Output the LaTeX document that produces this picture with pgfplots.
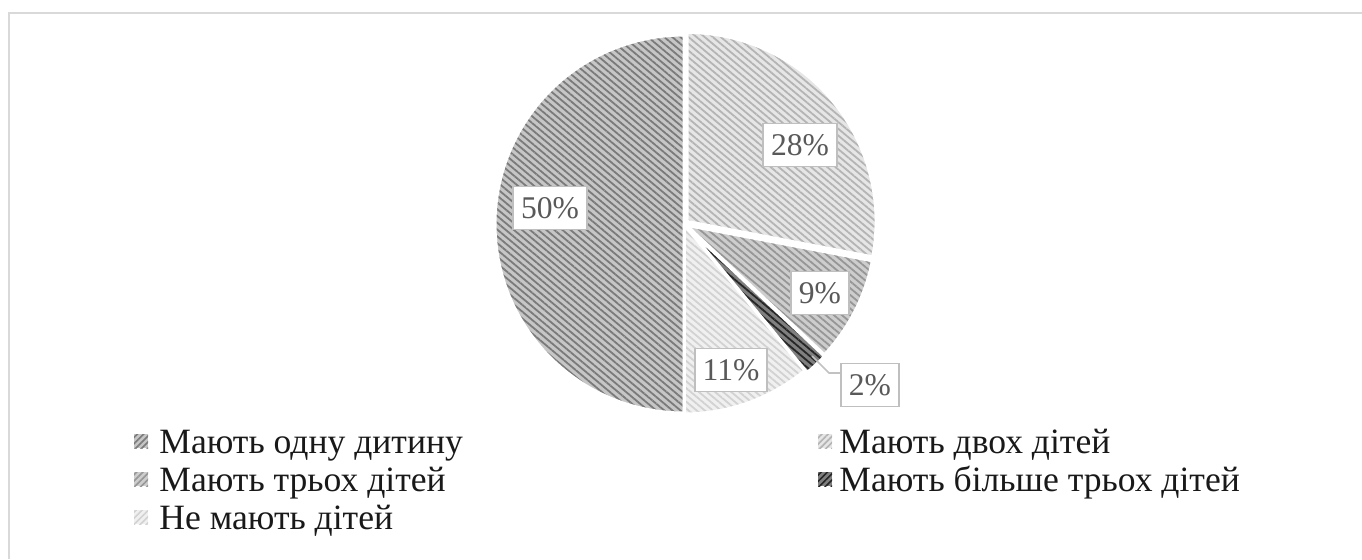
\documentclass[border=0pt]{standalone}
\usepackage{pgfplots}
\pgfplotsset{compat=1.18}
\usepackage{pgfplotstable}
\usetikzlibrary{patterns.meta}
\usepackage{fontspec}
\setmainfont{Liberation Serif}

\definecolor{bg0}{HTML}{C6C6C6}\definecolor{ln0}{HTML}{7A7A7A}
\definecolor{bg1}{HTML}{E6E6E6}\definecolor{ln1}{HTML}{B4B4B4}
\definecolor{bg2}{HTML}{CDCDCD}\definecolor{ln2}{HTML}{969696}
\definecolor{bg3}{HTML}{7F7F7F}\definecolor{ln3}{HTML}{262626}
\definecolor{bg4}{HTML}{F0F0F0}\definecolor{ln4}{HTML}{D2D2D2}
\definecolor{lbltext}{HTML}{595959}
\definecolor{lblbox}{HTML}{BFBFBF}
\definecolor{frame}{HTML}{D9D9D9}

% order: одну дитину, двох, трьох, більше трьох, не мають
\pgfplotstableread{
value ex
50 0
28 4
9 3
2 4
11 1
}\piedata

\begin{document}
\begin{tikzpicture}
\begin{axis}[
  width=681pt, height=279.5pt, scale only axis,
  xmin=0, xmax=1362, ymin=0, ymax=559,
  hide axis, clip=false,
]
\pgfplotstablegetrowsof{\piedata}
\pgfmathtruncatemacro\nrows{\pgfplotsretval-1}
\def\angA{270}
\pgfplotsforeachungrouped \i in {0,...,\nrows}{%
  \pgfplotstablegetelem{\i}{value}\of\piedata \let\v\pgfplotsretval
  \pgfplotstablegetelem{\i}{ex}\of\piedata \let\ex\pgfplotsretval
  \pgfmathsetmacro\angB{\angA-3.6*\v}%
  \pgfmathsetmacro\midA{(\angA+\angB)/2}%
  \pgfmathsetmacro\cx{684+\ex*cos(\midA)}%
  \pgfmathsetmacro\cy{335+\ex*sin(\midA)}%
  \edef\temp{%
    \noexpand\fill[fill=bg\i] (axis cs:\cx,\cy) -- ++(\angA:94.5pt) arc[start angle=\angA, end angle=\angB, radius=94.5pt] -- cycle;
    \noexpand\fill[pattern={Lines[angle=-40,distance=2.6pt,line width=0.9pt]}, pattern color=ln\i] (axis cs:\cx,\cy) -- ++(\angA:94.5pt) arc[start angle=\angA, end angle=\angB, radius=94.5pt] -- cycle;
    \noexpand\draw[white, line width=1.5pt, line join=round] (axis cs:\cx,\cy) -- ++(\angA:94.5pt) arc[start angle=\angA, end angle=\angB, radius=94.5pt] -- cycle;
  }%
  \temp
  \let\angA\angB
}

% data labels
\tikzset{lbl/.style={draw=lblbox, line width=0.9pt, fill=white, text=lbltext,
  font=\fontsize{15.8}{17}\selectfont, inner xsep=4pt, minimum height=21.5pt}}
\node[lbl] at (axis cs:550,351) {50\%};
\node[lbl] at (axis cs:800,414) {28\%};
\node[lbl] at (axis cs:820,266) {9\%};
\node[lbl] at (axis cs:731,189) {11\%};
\draw[lblbox!80!black!60, line width=0.8pt] (axis cs:812,203) -- (axis cs:829,186) -- (axis cs:842,186);
\node[lbl] at (axis cs:870,174) {2\%};

% legend
\tikzset{lgt/.style={anchor=base west, inner sep=0pt, font=\fontsize{17.8}{20}\selectfont, text=black!90}}
\def\legsq#1#2#3{%
  \fill[bg#1] (axis cs:#2-7,#3-7) rectangle (axis cs:#2+7,#3+7);
  \fill[pattern={Lines[angle=45,distance=2.2pt,line width=0.8pt]}, pattern color=ln#1] (axis cs:#2-7,#3-7) rectangle (axis cs:#2+7,#3+7);
}
\legsq{0}{141}{118}
\node[lgt] at (axis cs:159,106) {Мають одну дитину};
\legsq{1}{825}{118}
\node[lgt] at (axis cs:839,106) {Мають двох дітей};
\legsq{2}{141}{80}
\node[lgt] at (axis cs:159,68) {Мають трьох дітей};
\legsq{3}{825}{80}
\node[lgt] at (axis cs:839,68) {Мають більше трьох дітей};
\legsq{4}{141}{42}
\node[lgt] at (axis cs:159,30) {Не мають дітей};

% outer frame (top and left visible)
\draw[frame, line width=1pt] (axis cs:8.5,0) -- (axis cs:8.5,546.5) -- (axis cs:1362,546.5);
\end{axis}
\pgfresetboundingbox
\path[use as bounding box] (current axis.south west) rectangle (current axis.north east);
\end{tikzpicture}
\end{document}
